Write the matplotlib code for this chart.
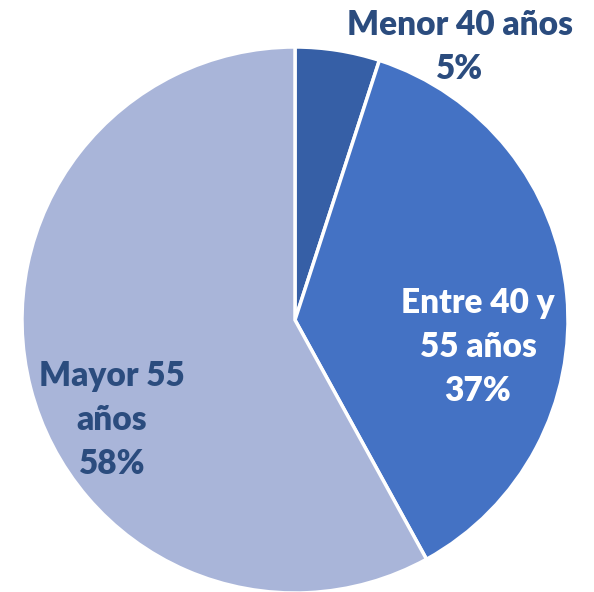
import matplotlib
matplotlib.use('Agg')
import matplotlib.pyplot as plt

# data
categories = ['Menor 40 años', 'Entre 40 y\n55 años', 'Mayor 55\naños']
shares = [5, 37, 58]
colors = ['#365FA6', '#4472C4', '#A9B5D9']
text_colors = ['#2B4C7E', 'white', '#2B4C7E']

W, H = 594, 592
fig = plt.figure(figsize=(W / 100, H / 100), dpi=100)
ax = fig.add_axes([0, 0, 1, 1])

cx, cy, r = 295, H - 320, 273
ax.pie(shares, colors=colors, startangle=90, counterclock=False,
       radius=r, center=(cx, cy), frame=True,
       wedgeprops=dict(edgecolor='white', linewidth=2.5))
ax.set_xlim(0, W)
ax.set_ylim(0, H)
ax.set_aspect('equal')
ax.axis('off')

# labels placed by hand like the original
label_pos = [(460, H - 47), (478, H - 347), (112, H - 420)]
for cat, val, (x, y), c in zip(categories, shares, label_pos, text_colors):
    ax.text(x, y, f'{cat}\n{val}%', ha='center', va='center', color=c,
            fontsize=24, fontweight='heavy', family='Lato', linespacing=1.45)

plt.savefig('out.png', dpi=100)
